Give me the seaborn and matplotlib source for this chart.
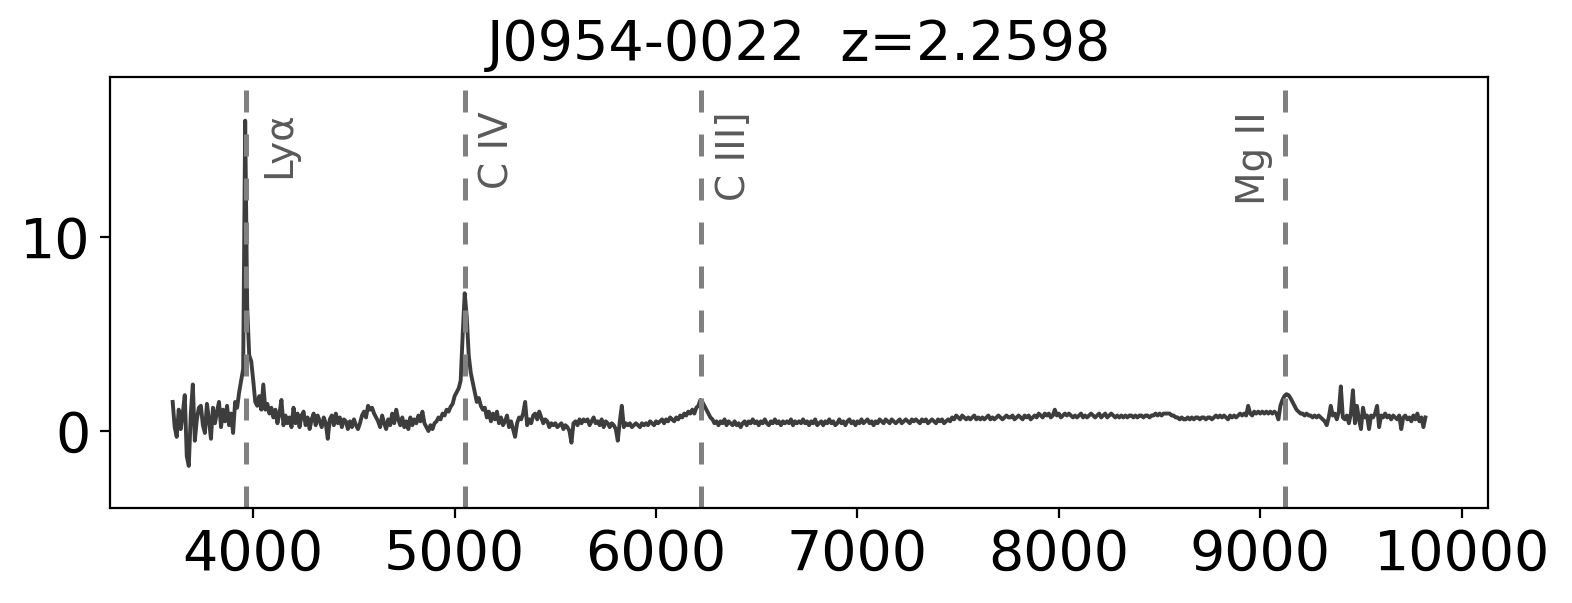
import numpy as np
import matplotlib.pyplot as plt
import matplotlib.transforms as mtransforms
import seaborn as sns

# quasar and emission lines
name = 'J0954-0022'
z = 2.2598
line_names = ['Lyα', 'C IV', 'C III]', 'Mg II']
line_rest = [1215.67, 1549.06, 1908.73, 2798.75]
label_side = ['right', 'right', 'right', 'left']

# flux, 10 A steps starting at 3600 A
flux_blue = [
    1.5, 0.2, -0.3, 1.1, 0.1, 0.9, 1.85, -1.3, -1.8, 0.9,     # 3600
    2.4, -0.5, 0.6, 1.2, 1.3, 0.3, -0.1, 1.4, 0.6, -0.4,      # 3700
    1.2, 0.4, 1.0, 1.5, 0.2, 1.1, 0.5, 1.3, 0.3, 0.9,         # 3800
    -0.1, 1.5, 1.2, 2.0, 2.6, 3.2, 16.0, 6.4, 3.9, 3.6,       # 3900 (Lya)
    2.6, 1.5, 1.3, 1.8, 1.1, 2.4, 1.1, 1.4, 0.9, 1.2,         # 4000
    0.7, 1.1, 0.4, 0.9, 1.6, 0.3, 0.8, 0.4, 0.7, 0.2,         # 4100
    1.2, 0.4, 0.9, 0.2, 0.8, 1.0, 0.3, 0.7, 0.1, 0.6,         # 4200
    0.9, 0.3, 0.8, 0.5, 0.2, 0.7, 0.4, -0.4, 0.6, 0.8,        # 4300
    0.3, 0.9, 0.4, 0.7, 0.2, 0.6, 0.5, 0.1, 0.5, 0.2,         # 4400
    0.6, 0.3, 0.1, 0.4, 0.8, 1.0, 0.7, 1.3, 1.1, 1.2,         # 4500
]
flux_civ = [
    0.9, 0.7, 0.5, 0.2, 0.8, 0.4, 0.1, 0.6, 0.3, 0.9,         # 4600
    0.4, 1.1, 0.6, 0.3, 0.7, 0.2, 0.5, 0.1, 0.7, 0.3,         # 4700
    0.6, 0.4, 0.8, 0.5, 1.0, 0.4, 0.2, 0.0, 0.3, 0.1,         # 4800
    0.4, 0.5, 0.7, 0.6, 0.9, 0.8, 1.1, 1.0, 1.25, 1.4,        # 4900
    1.8, 2.0, 2.2, 2.6, 5.0, 7.1, 5.9, 3.9, 3.0, 2.5,         # 5000 (C IV)
    2.0, 1.5, 1.7, 1.3, 1.1, 1.2, 0.7, 1.0, 0.5, 0.9,         # 5100
    0.6, 1.0, 0.4, 0.7, 0.3, 0.5, 0.8, 0.2, 0.5, 0.1,         # 5200
    -0.3, 0.4, 0.7, 0.6, 0.9, 1.5, 0.3, 0.6, 0.4, 0.8,        # 5300
    0.9, 0.6, 1.0, 0.7, 0.4, 0.6, 0.5, 0.2, 0.4, 0.3,         # 5400
    0.4, 0.2, 0.3, 0.4, 0.1, 0.3, 0.2, 0.0, -0.6, 0.4,        # 5500
]
flux_ciii = [
    0.5, 0.3, 0.6, 0.4, 0.6, 0.5, 0.6, 0.3, 0.5, 0.7,         # 5600
    0.4, 0.5, 0.3, 0.6, 0.2, 0.5, 0.4, 0.2, 0.4, 0.3,         # 5700
    0.1, -0.5, 0.5, 1.3, 0.2, 0.4, 0.3, 0.4, 0.2, 0.3,        # 5800
    0.4, 0.3, 0.2, 0.4, 0.3, 0.4, 0.3, 0.5, 0.4, 0.3,         # 5900
    0.5, 0.4, 0.5, 0.6, 0.4, 0.6, 0.5, 0.7, 0.6, 0.5,         # 6000
    0.7, 0.6, 0.8, 0.7, 0.9, 0.8, 1.0, 0.9, 1.1, 0.9,         # 6100
    1.2, 1.3, 1.6, 1.5, 1.3, 1.1, 0.9, 0.7, 0.6, 0.4,         # 6200 (C III])
    0.5, 0.3, 0.5, 0.4, 0.6, 0.3, 0.5, 0.4, 0.3, 0.5,         # 6300
    0.3, 0.4, 0.2, 0.4, 0.5, 0.3, 0.5, 0.4, 0.6, 0.4,         # 6400
    0.5, 0.3, 0.5, 0.4, 0.6, 0.4, 0.3, 0.5, 0.4, 0.6,         # 6500
]
flux_red = [
    0.4, 0.5, 0.3, 0.5, 0.4, 0.5, 0.4, 0.6, 0.3, 0.5,         # 6600
    0.4, 0.5, 0.4, 0.6, 0.4, 0.5, 0.3, 0.5, 0.4, 0.6,         # 6700
    0.3, 0.4, 0.5, 0.3, 0.5, 0.4, 0.6, 0.4, 0.5, 0.3,         # 6800
    0.4, 0.6, 0.4, 0.5, 0.3, 0.5, 0.6, 0.4, 0.5, 0.3,         # 6900
    0.5, 0.4, 0.6, 0.4, 0.5, 0.6, 0.4, 0.5, 0.3, 0.5,         # 7000
    0.4, 0.6, 0.5, 0.4, 0.6, 0.5, 0.4, 0.6, 0.5, 0.4,         # 7100
    0.5, 0.6, 0.4, 0.5, 0.6, 0.5, 0.4, 0.6, 0.5, 0.6,         # 7200
    0.5, 0.4, 0.6, 0.5, 0.6, 0.4, 0.5, 0.6, 0.5, 0.4,         # 7300
    0.6, 0.5, 0.6, 0.4, 0.5, 0.6, 0.5, 0.7, 0.6, 0.8,         # 7400
    0.7, 0.6, 0.8, 0.7, 0.6, 0.7, 0.6, 0.7, 0.8, 0.6,         # 7500
]
flux_nir = [
    0.7, 0.6, 0.7, 0.6, 0.7, 0.8, 0.6, 0.7, 0.6, 0.7,         # 7600
    0.8, 0.7, 0.6, 0.7, 0.8, 0.7, 0.7, 0.8, 0.6, 0.7,         # 7700
    0.8, 0.7, 0.6, 0.8, 0.7, 0.8, 0.6, 0.7, 0.8, 0.7,         # 7800
    0.9, 0.8, 0.7, 0.9, 0.8, 0.9, 0.7, 0.8, 1.1, 0.8,         # 7900
    0.9, 0.7, 0.8, 0.9, 0.8, 0.9, 0.8, 0.7, 0.8, 0.7,         # 8000
    0.8, 0.9, 0.7, 0.8, 0.7, 0.8, 0.9, 0.8, 0.7, 0.8,         # 8100
    0.9, 0.7, 0.8, 0.9, 0.7, 0.8, 0.9, 0.8, 0.7, 0.8,         # 8200
    0.7, 0.8, 0.7, 0.8, 0.7, 0.8, 0.8, 0.7, 0.8, 0.7,         # 8300
    0.8, 0.8, 0.7, 0.8, 0.8, 0.7, 0.8, 0.8, 0.9, 0.8,         # 8400
    0.9, 0.8, 0.9, 0.9, 0.9, 0.9, 0.8, 0.8, 0.7, 0.7,         # 8500
]
flux_mgii = [
    0.6, 0.7, 0.6, 0.6, 0.7, 0.6, 0.7, 0.6, 0.7, 0.7,         # 8600
    0.6, 0.7, 0.7, 0.6, 0.7, 0.7, 0.6, 0.7, 0.8, 0.7,         # 8700
    0.8, 0.7, 0.8, 0.7, 0.6, 0.8, 0.7, 0.8, 0.7, 0.8,         # 8800
    0.9, 0.8, 0.9, 0.8, 1.3, 0.9, 0.8, 1.0, 0.9, 1.0,         # 8900
    0.9, 1.0, 0.9, 1.0, 0.9, 1.0, 0.9, 1.0, 0.9, 0.6,         # 9000
    1.3, 1.6, 1.8, 1.9, 1.85, 1.7, 1.5, 1.3, 1.1, 1.0,        # 9100 (Mg II)
    0.9, 0.9, 0.8, 0.9, 0.8, 0.8, 0.7, 0.8, 0.7, 0.8,         # 9200
    0.7, 0.6, 0.5, 0.3, 0.7, 1.3, 0.8, 0.9, 0.6, 1.0,         # 9300
    2.3, 0.7, 0.6, 0.8, 0.4, 0.9, 2.1, 0.4, 1.3, 0.6,         # 9400
    0.1, 1.2, 0.7, 0.8, 0.1, 0.8, 0.7, 0.9, 1.3, 0.2,         # 9500
    0.8, 0.7, 0.9, 0.7, 0.8, 0.6, 0.8, 0.7, 0.6, 0.8,         # 9600
    0.1, 0.7, 0.8, 0.6, 0.7, 0.5, 0.8, 0.6, 0.9, 0.5,         # 9700
    0.7, 0.2, 0.7,                                            # 9800
]

flux = np.array(flux_blue + flux_civ + flux_ciii + flux_red + flux_nir + flux_mgii)
wave = 3600 + 10 * np.arange(len(flux))

fig = plt.figure(figsize=(7.86, 3.015), dpi=200)
ax = fig.add_axes([0.070, 0.1575, 0.8766, 0.7148])

sns.lineplot(x=wave, y=flux, ax=ax, color='#3d3d3d', lw=1.4)

trans = mtransforms.blended_transform_factory(ax.transData, ax.transAxes)
for lname, rest, side in zip(line_names, line_rest, label_side):
    obs = rest * (1 + z)
    ax.axvline(obs, color='gray', lw=1.8, ls=(0, (4.4, 4.4)))
    if side == 'right':
        ax.text(obs + 70, 0.92, lname, transform=trans, rotation=90,
                ha='left', va='top', fontsize=14, color='0.35')
    else:
        ax.text(obs - 60, 0.92, lname, transform=trans, rotation=90,
                ha='right', va='top', fontsize=14, color='0.35')

ax.set_ylim(-3.97, 18.25)
ax.set_xticks(range(4000, 10001, 1000))
ax.set_yticks([0, 10])
ax.tick_params(labelsize=20)
ax.set_title(f'{name}  z={z}', fontsize=20)

fig.savefig('out.png', dpi=200)
